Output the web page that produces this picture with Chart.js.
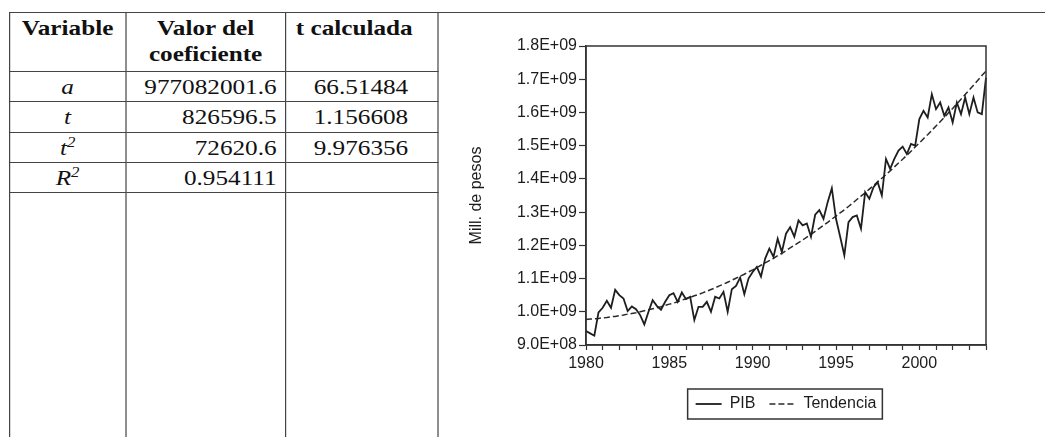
<!DOCTYPE html>
<html lang="es">
<head>
<meta charset="utf-8">
<title>PIB y tendencia</title>
<script src="https://cdn.jsdelivr.net/npm/chart.js@4.4.1/dist/chart.umd.min.js"></script>
<style>
  html, body { margin: 0; padding: 0; background: #fff; }
  body { width: 1045px; height: 437px; position: relative; overflow: hidden; }
  .linea-sup { position: absolute; left: 9px; top: 12px; width: 1036px; border-top: 1.5px solid #444; }
  .tabla-wrap { position: absolute; left: 9px; top: 12px; transform: scaleX(1.2); transform-origin: 0 0; }
  table { border-collapse: collapse; table-layout: fixed; font-family: "Liberation Serif", "Times New Roman", serif;
          font-size: 21px; color: #111; }
  th, td { border: 1.5px solid #444; padding: 0; vertical-align: top; white-space: nowrap; }
  th { font-weight: bold; line-height: 26px; padding-top: 2px; text-align: center; }
  th.izq { text-align: left; padding-left: 8px; }
  td { line-height: 24px; padding-top: 3px; }
  td.var { text-align: center; font-style: italic; }
  td.num { text-align: right; padding-right: 7px; }
  td.num3 { text-align: right; padding-right: 24px; }
  sup { font-size: 14px; line-height: 0; vertical-align: 8px; }
  #grafico-box { position: absolute; left: 440px; top: 14px; width: 605px; height: 423px; }
</style>
</head>
<body>
<div class="linea-sup"></div>
<div class="tabla-wrap">
  <table>
    <colgroup><col style="width:96.7px"><col style="width:133.3px"><col style="width:126.7px"></colgroup>
    <tr style="height:59px"><th>Variable</th><th>Valor del<br>coeficiente</th><th class="izq">t calculada</th></tr>
    <tr style="height:30px"><td class="var">a</td><td class="num">977082001.6</td><td class="num3">66.51484</td></tr>
    <tr style="height:31px"><td class="var">t</td><td class="num">826596.5</td><td class="num3">1.156608</td></tr>
    <tr style="height:30px"><td class="var">t<sup>2</sup></td><td class="num">72620.6</td><td class="num3">9.976356</td></tr>
    <tr style="height:30px"><td class="var">R<sup>2</sup></td><td class="num">0.954111</td><td class="num3"></td></tr>
    <tr style="height:260px"><td></td><td></td><td></td></tr>
  </table>
</div>
<div id="grafico-box"><canvas id="grafico" width="605" height="423"></canvas></div>

<script>
// periodos trimestrales 1980Q1 - 2004Q1
var periodos = [];
for (var anio = 1980; anio <= 2004; anio++) {
  for (var q = 1; q <= 4; q++) {
    if (anio === 2004 && q > 1) break;
    periodos.push(anio + "Q" + q);
  }
}
var etiquetasX = ["1980", "1985", "1990", "1995", "2000"];

// millones de pesos
var pib = [
  942, 935, 928, 998, 1012, 1033, 1012, 1066, 1050, 1040,
  1002, 1016, 1008, 990, 962, 1000, 1035, 1018, 1006, 1030,
  1050, 1056, 1030, 1058, 1038, 1045, 975, 1015, 1015, 1030,
  1000, 1045, 1040, 1060, 1000, 1068, 1078, 1103, 1053, 1100,
  1120, 1135, 1106, 1160, 1190, 1165, 1220, 1180, 1235, 1255,
  1226, 1275, 1260, 1266, 1226, 1292, 1306, 1280, 1330, 1372,
  1280, 1226, 1170, 1270, 1285, 1290, 1250, 1360, 1340, 1375,
  1390, 1350, 1460, 1430, 1460, 1485, 1497, 1475, 1505, 1500,
  1580, 1605, 1585, 1655, 1610, 1630, 1590, 1615, 1570, 1630,
  1595, 1645, 1595, 1645, 1600, 1595, 1705
];
var tendencia = [
  977, 978, 979, 980, 982, 983, 985, 986, 988, 990,
  993, 995, 997, 1000, 1003, 1006, 1009, 1012, 1015, 1019,
  1023, 1026, 1030, 1035, 1039, 1043, 1048, 1052, 1057, 1062,
  1067, 1072, 1078, 1083, 1089, 1095, 1101, 1107, 1113, 1120,
  1126, 1133, 1140, 1147, 1154, 1161, 1169, 1176, 1184, 1192,
  1200, 1208, 1216, 1225, 1233, 1242, 1251, 1260, 1269, 1279,
  1288, 1298, 1307, 1317, 1327, 1338, 1348, 1358, 1369, 1380,
  1391, 1402, 1413, 1424, 1436, 1448, 1459, 1471, 1483, 1496,
  1508, 1521, 1533, 1546, 1559, 1572, 1585, 1599, 1612, 1626,
  1640, 1654, 1668, 1682, 1696, 1711, 1724
];

var fuente = "'Liberation Sans', Arial, sans-serif";
var tinta = "#1c1c1c";

function formatoE(v) {
  var s = (v * 1e6).toExponential(1).toUpperCase();
  var partes = s.split("E");
  var exp = partes[1];
  return partes[0] + "E" + exp[0] + exp.slice(1).padStart(2, "0");
}

// marco del area de trazado
var marco = {
  id: "marco",
  afterDatasetsDraw: function (chart) {
    var a = chart.chartArea, ctx = chart.ctx;
    ctx.save();
    ctx.strokeStyle = "#333";
    ctx.lineWidth = 1.5;
    ctx.strokeRect(a.left, a.top, a.right - a.left, a.bottom - a.top);
    ctx.restore();
  }
};

// recuadro de la leyenda
var cajaLeyenda = {
  id: "cajaLeyenda",
  afterDraw: function (chart) {
    var hb = chart.legend && chart.legend.legendHitBoxes;
    if (!hb || !hb.length) return;
    var l = Infinity, r = -Infinity, t = Infinity, b = -Infinity;
    hb.forEach(function (h) {
      l = Math.min(l, h.left); r = Math.max(r, h.left + h.width);
      t = Math.min(t, h.top); b = Math.max(b, h.top + h.height);
    });
    var ctx = chart.ctx;
    ctx.save();
    ctx.strokeStyle = "#333";
    ctx.lineWidth = 1.5;
    ctx.strokeRect(l - 8, t - 7, r - l + 14, b - t + 14);
    ctx.restore();
  }
};

var ctx = document.getElementById("grafico").getContext("2d");
var chart = new Chart(ctx, {
  type: "line",
  data: {
    labels: periodos,
    datasets: [
      {
        label: "PIB",
        data: pib,
        borderColor: "#1e1e1e",
        borderWidth: 1.8,
        pointRadius: 0,
        tension: 0,
        fill: false
      },
      {
        label: "Tendencia",
        data: tendencia,
        borderColor: "#2a2a2a",
        borderWidth: 1.5,
        borderDash: [6, 3],
        pointRadius: 0,
        tension: 0,
        fill: false
      }
    ]
  },
  options: {
    responsive: false,
    animation: false,
    devicePixelRatio: 1,
    layout: { padding: { left: 23, top: 32, right: 59, bottom: 15 } },
    plugins: {
      tooltip: { enabled: false },
      legend: {
        position: "bottom",
        fullSize: false,
        labels: {
          usePointStyle: true,
          pointStyle: "line",
          pointStyleWidth: 26,
          padding: 14,
          color: tinta,
          font: { family: fuente, size: 16 },
          generateLabels: function (chart) {
            var items = Chart.defaults.plugins.legend.labels.generateLabels(chart);
            items.forEach(function (it) {
              var ds = chart.data.datasets[it.datasetIndex];
              it.lineDash = ds.borderDash || [];
              it.lineWidth = ds.borderWidth;
              it.strokeStyle = ds.borderColor;
            });
            return items;
          }
        }
      }
    },
    scales: {
      x: {
        type: "category",
        offset: false,
        border: { display: true, color: "#333", width: 1.5 },
        grid: {
          drawOnChartArea: false,
          drawTicks: true,
          tickLength: 5,
          tickWidth: 1.2,
          tickColor: function (c) { return c.index % 4 === 0 ? "#333" : "rgba(0,0,0,0)"; }
        },
        ticks: {
          autoSkip: false,
          maxRotation: 0,
          minRotation: 0,
          padding: 4,
          color: tinta,
          font: { family: fuente, size: 16 },
          callback: function (val) {
            var lab = this.getLabelForValue(val);
            var yr = lab.slice(0, 4);
            return lab.slice(4) === "Q1" && etiquetasX.indexOf(yr) >= 0 ? yr : "";
          }
        },
        afterFit: function (s) { s.height = 37; }
      },
      y: {
        min: 900,
        max: 1800,
        border: { display: true, color: "#333", width: 1.5 },
        grid: { drawOnChartArea: false, drawTicks: true, tickLength: 7, tickColor: "#333", tickWidth: 1.2 },
        ticks: {
          stepSize: 100,
          padding: 2,
          color: tinta,
          font: { family: fuente, size: 16 },
          callback: function (v) { return formatoE(v); }
        },
        title: {
          display: true,
          text: "Mill. de pesos",
          color: tinta,
          font: { family: fuente, size: 16 },
          padding: { top: 4, bottom: 0 }
        },
        afterFit: function (s) { s.width = 123; }
      }
    }
  },
  plugins: [marco, cajaLeyenda]
});
</script>
</body>
</html>
